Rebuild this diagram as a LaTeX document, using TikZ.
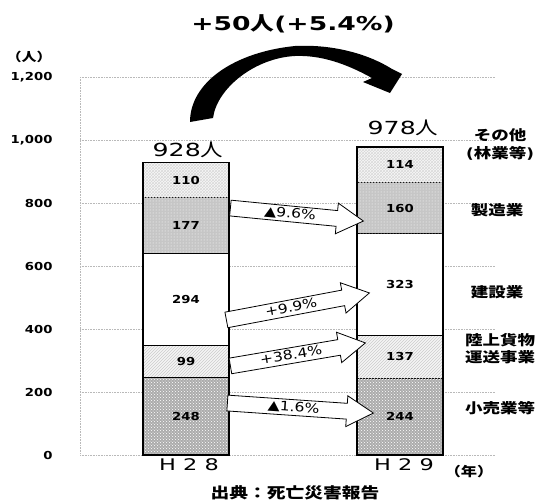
\documentclass[tikz,border=0pt]{standalone}
\usepackage{fontspec}
\setmainfont{DejaVu Sans}[FakeStretch=1.2]
\newfontfamily\widefont{DejaVu Sans}[FakeStretch=1.4]
\newfontfamily\jpfont{Noto Sans CJK JP}[FakeStretch=1.25]
\usetikzlibrary{patterns,shapes.arrows,calc}

\tikzset{
  grid line/.style={gray!55, densely dotted, line width=0.6pt},
  retail/.style={fill=gray!65, postaction={pattern=crosshatch dots, pattern color=white}},
  trucking/.style={fill=gray!8, postaction={pattern=north east lines, pattern color=gray!40}},
  building/.style={fill=white},
  making/.style={fill=gray!45, postaction={pattern=dots, pattern color=white}},
  others/.style={fill=gray!6, postaction={pattern=crosshatch, pattern color=gray!30}},
  segment/.style={draw=black, line width=0.8pt},
  count/.style={font=\bfseries\fontsize{11}{11}\selectfont},
  sector/.style={font=\jpfont\bfseries\fontsize{14}{18}\selectfont, align=center},
  change/.style={single arrow, draw=black, fill=white, line width=0.8pt,
    single arrow head extend=7.5pt, single arrow tip angle=60,
    inner xsep=0pt, inner ysep=1pt, text height=10.5pt, text depth=2.5pt,
    font=\fontsize{13}{13}\selectfont},
}

\begin{document}
\begin{tikzpicture}[x=1pt, y=-1pt]
    \useasboundingbox (0,0) rectangle (540,501);

    % grid and axis
    \foreach \v/\lbl in {0/0, 200/200, 400/400, 600/600, 800/800, 1000/{1,000}, 1200/{1,200}} {
        \draw [grid line] (80, {455-0.315*\v}) -- (495, {455-0.315*\v});
        \node [anchor=east, font=\bfseries\fontsize{11}{11}\selectfont] (tick\v) at (56, {455-0.315*\v}) {\lbl};
    }
    \draw [grid line] (80, 77) -- (80, 455);
    \node [font=\jpfont\bfseries\fontsize{12}{12}\selectfont] (unit) at (29, 57) {（人）};

    % H28 bar
    \draw [retail, segment] (143, 455) rectangle (229, 376.9);
    \draw [trucking, segment] (143, 376.9) rectangle (229, 345.7);
    \draw [building, segment] (143, 345.7) rectangle (229, 253.1);
    \draw [making, segment] (143, 253.1) rectangle (229, 197.3);
    \draw [others, segment] (143, 197.3) rectangle (229, 162.7);
    \draw [line width=1.4pt] (143, 455) rectangle (229, 162.7);
    \node [count] (retail28) at (186, 416.9) {248};
    \node [count] (truck28) at (186, 361.3) {99};
    \node [count] (build28) at (186, 299.4) {294};
    \node [count] (mfg28) at (186, 225.2) {177};
    \node [count] (other28) at (186, 180.0) {110};

    % H29 bar
    \draw [retail, segment] (357, 455) rectangle (443, 378.1);
    \draw [trucking, segment] (357, 378.1) rectangle (443, 335.0);
    \draw [building, segment] (357, 335.0) rectangle (443, 233.2);
    \draw [making, segment] (357, 233.2) rectangle (443, 182.8);
    \draw [others, segment] (357, 182.8) rectangle (443, 146.9);
    \draw [line width=1.4pt] (357, 455) rectangle (443, 146.9);
    \node [count] (retail29) at (400, 416.6) {244};
    \node [count] (truck29) at (400, 356.6) {137};
    \node [count] (build29) at (400, 284.1) {323};
    \node [count] (mfg29) at (400, 208.0) {160};
    \node [count] (other29) at (400, 164.9) {114};

    % change arrows between the bars
    \coordinate (mfgA) at (230, 208);    \coordinate (mfgB) at (363, 221);
    \coordinate (buildA) at (226, 320);  \coordinate (buildB) at (369, 293);
    \coordinate (truckA) at (230, 366);  \coordinate (truckB) at (365, 343);
    \coordinate (retailA) at (227, 403); \coordinate (retailB) at (373, 413);
    \foreach \a/\b/\t in {mfgA/mfgB/{▲9.6\%}, buildA/buildB/{+9.9\%},
                          truckA/truckB/{+38.4\%}, retailA/retailB/{▲1.6\%}}
        \path let \p1=(\a), \p2=(\b),
                  \n1={atan2(\y2-\y1,\x2-\x1)}, \n2={veclen(\x2-\x1,\y2-\y1)} in
            node [change, rotate=\n1, minimum height=\n2, anchor=tail] (arrow-\a) at (\a) {\t};

    % total change
    \fill (190, 122) .. controls (190, 82) and (235, 52) .. (295, 46)
        .. controls (335, 44) and (370, 55) .. (392, 69) -- (402, 74) -- (390, 93)
        -- (363, 82) -- (372, 78) .. controls (345, 63) and (320, 55) .. (295, 56)
        .. controls (255, 58) and (217, 88) .. (213, 118) -- cycle;
    \node [font=\widefont\bfseries\fontsize{19}{19}\selectfont] (total) at (293, 24) {+50{\jpfont 人}(+5.4\%)};
    \node [font=\widefont\fontsize{18}{18}\selectfont] (sum28) at (188, 150) {928{\jpfont 人}};
    \node [font=\widefont\fontsize{18}{18}\selectfont] (sum29) at (403, 128) {978{\jpfont 人}};

    % sectors
    \node [sector] (other) at (500, 144) {その他\\{\rmfamily(}林業等{\rmfamily)}};
    \node [sector] (mfg) at (497, 210) {製造業};
    \node [sector] (build) at (497, 292) {建設業};
    \node [sector, font=\jpfont\bfseries\fontsize{14}{17}\selectfont] (truck) at (500, 349) {陸上貨物\\運送事業};
    \node [sector] (retail) at (500, 408) {小売業等};

    % years and source
    \node [font=\widefont\fontsize{16}{16}\selectfont] (year28) at (189, 465) {H 2 8};
    \node [font=\widefont\fontsize{16}{16}\selectfont] (year29) at (404, 465) {H 2 9};
    \node [font=\jpfont\bfseries\fontsize{13}{13}\selectfont] (yearunit) at (469, 472) {（年）};
    \node [font=\jpfont\bfseries\fontsize{15}{15}\selectfont] (source) at (295, 493) {出典：死亡災害報告};
\end{tikzpicture}
\end{document}
